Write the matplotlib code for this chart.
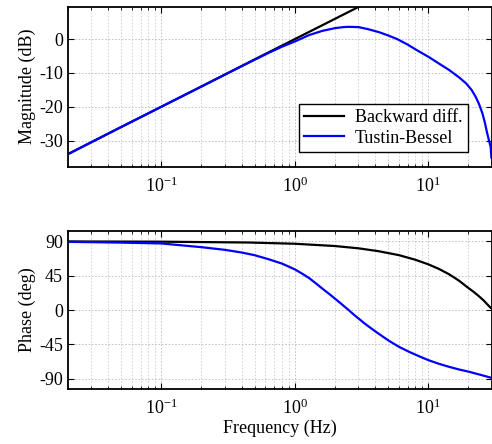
import matplotlib
matplotlib.use("Agg")
import matplotlib.pyplot as plt
from matplotlib.ticker import LogLocator, NullFormatter

plt.rcParams['font.family'] = ['Liberation Serif', 'DejaVu Serif']
plt.rcParams['mathtext.fontset'] = 'custom'
plt.rcParams['mathtext.rm'] = 'Liberation Serif'
plt.rcParams['mathtext.it'] = 'Liberation Serif:italic'
plt.rcParams['axes.unicode_minus'] = False

# magnitude (dB)
bd_mag_f = [0.02, 0.05, 0.1, 0.2, 0.5, 1.0, 2.0, 3.03]
bd_mag = [-34.0, -26.0, -20.0, -14.0, -6.0, 0.0, 6.0, 9.6]

tb_mag_f = [0.02, 0.05, 0.1, 0.2, 0.3, 0.455, 0.642, 0.807, 1.0, 1.28, 1.61, 2.0, 2.3,
            2.55, 3.0, 3.5, 4.27, 5.0, 5.86, 7.0, 8.0, 10.1, 12.0, 14.3, 17.0, 19.1,
            21.0, 22.6, 24.0, 25.4, 26.5, 27.6, 28.5, 29.3, 29.7]
tb_mag = [-34.0, -26.0, -20.0, -14.0, -10.5, -6.9, -4.0, -2.2, -0.7, 1.2, 2.45, 3.25, 3.55,
          3.64, 3.55, 3.0, 2.07, 1.1, 0.0, -1.6, -3.0, -5.3, -7.2, -9.1, -11.3, -13.0,
          -14.9, -17.0, -19.2, -21.9, -24.6, -27.8, -30.0, -31.8, -35.0]

# phase (deg)
bd_ph_f = [0.02, 0.1, 0.455, 1.0, 2.0, 3.0, 4.22, 6.04, 8.0, 10.0, 12.0, 14.3, 17.0,
           19.6, 22.0, 24.0, 26.0, 27.5, 29.3]
bd_ph = [90.0, 89.7, 88.6, 87.0, 84.0, 81.0, 77.3, 72.0, 66.0, 60.0, 54.0, 47.0, 38.5,
         30.0, 23.5, 18.0, 12.5, 8.0, 3.0]

tb_ph_f = [0.02, 0.05, 0.1, 0.2, 0.3, 0.4, 0.5, 0.642, 0.807, 1.0, 1.13, 1.28, 1.44,
           1.61, 1.8, 2.0, 2.27, 2.55, 2.77, 3.0, 3.3, 3.6, 4.22, 5.08, 6.04, 7.18, 8.5,
           10.0, 12.0, 14.3, 17.0, 20.2, 24.0, 29.5]
tb_ph = [89.5, 88.5, 87.4, 82.5, 79.0, 75.5, 72.0, 66.5, 60.8, 53.4, 48.0, 42.0, 35.0,
         28.1, 21.5, 15.0, 7.0, -0.5, -6.0, -11.0, -17.0, -22.0, -30.7, -40.4, -48.3, -54.8,
         -60.5, -65.7, -70.5, -74.5, -78.0, -81.0, -84.5, -88.8]

mag_ticks = [-30, -20, -10, 0]
ph_ticks = [-90, -45, 0, 45, 90]


def style_axis(ax):
    ax.set_xscale('log')
    ax.set_xlim(0.02, 30)
    ax.xaxis.set_major_locator(LogLocator(base=10))
    ax.xaxis.set_minor_locator(LogLocator(base=10, subs=range(2, 10)))
    ax.xaxis.set_minor_formatter(NullFormatter())
    ax.tick_params(which='both', direction='in', top=True, right=True, labelsize=13)
    ax.tick_params(axis='x', which='major', pad=7)
    ax.tick_params(which='major', length=4, width=0.8)
    ax.tick_params(which='minor', length=2.5, width=0.6)
    ax.grid(True, which='major', color='#bcbcbc', linestyle=(0, (2, 2)), linewidth=0.6)
    ax.grid(True, which='minor', axis='x', color='#cdcdcd', linestyle=(0, (2, 2)), linewidth=0.6)
    for s in ax.spines.values():
        s.set_linewidth(1.3)


fig = plt.figure(figsize=(4.92, 4.44), dpi=100)
ax1 = fig.add_axes([0.138, 0.6246, 0.862, 0.3604])
ax2 = fig.add_axes([0.138, 0.1232, 0.862, 0.357])

ax1.plot(bd_mag_f, bd_mag, color='black', lw=1.6, label='Backward diff.')
ax1.plot(tb_mag_f, tb_mag, color='#0000ff', lw=1.6, label='Tustin-Bessel')
style_axis(ax1)
ax1.set_ylim(-37.7, 9.6)
ax1.set_yticks(mag_ticks)
ax1.set_ylabel('Magnitude (dB)', fontsize=13, labelpad=2)
leg = ax1.legend(loc='lower right', bbox_to_anchor=(0.943, 0.092), borderaxespad=0,
                 fontsize=13, fancybox=False, framealpha=1, edgecolor='black',
                 handlelength=2.2, handletextpad=0.6, borderpad=0.3, labelspacing=0.2)
leg.get_frame().set_linewidth(1.0)

ax2.plot(bd_ph_f, bd_ph, color='black', lw=1.6)
ax2.plot(tb_ph_f, tb_ph, color='#0000ff', lw=1.6)
style_axis(ax2)
ax2.set_ylim(-104, 104)
ax2.set_yticks(ph_ticks)
ax2.set_ylabel('Phase (deg)', fontsize=13, labelpad=2)
ax2.set_xlabel('Frequency (Hz)', fontsize=13, labelpad=1)

fig.savefig('out.png', dpi=100)
